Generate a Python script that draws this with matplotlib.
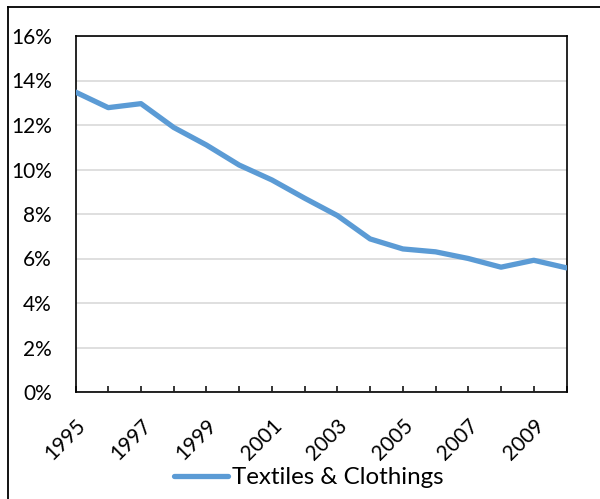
import matplotlib
matplotlib.use("Agg")
import matplotlib.pyplot as plt
from matplotlib.lines import Line2D

plt.rcParams['font.family'] = ['Lato', 'DejaVu Sans']

# share of textiles & clothing, %
years = list(range(1995, 2011))
share = [13.48, 12.78, 12.96, 11.89, 11.1, 10.2, 9.53, 8.71, 7.93,
         6.88, 6.43, 6.30, 6.0, 5.61, 5.92, 5.58]
label_years = [1995, 1997, 1999, 2001, 2003, 2005, 2007, 2009]
yticks = [0, 2, 4, 6, 8, 10, 12, 14, 16]

fig = plt.figure(figsize=(6, 4.99), dpi=100)
ax = fig.add_axes([75.5/600, 1 - 392/499, 491/600, 356/499])

ax.plot(years, share, color='#5B9BD5', lw=3.8, solid_capstyle='round',
        label='Textiles & Clothings', zorder=3)

ax.set_xlim(1995, 2010)
ax.set_ylim(0, 16)
ax.set_yticks(yticks)
ax.set_yticklabels([f"{v}%" for v in yticks], fontsize=15)
ax.yaxis.grid(True, color='#D9D9D9', lw=1.2)
ax.set_axisbelow(True)
ax.tick_params(axis='y', length=0, pad=17)

ax.set_xticks(years)
ax.set_xticklabels([str(y) if y in label_years else '' for y in years],
                   rotation=45, ha='right', rotation_mode='anchor', fontsize=15)
ax.tick_params(axis='x', direction='in', length=4.5, width=1.1, pad=17)

for s in ax.spines.values():
    s.set_linewidth(1.2)
    s.set_color('black')

leg = fig.legend(loc='center', bbox_to_anchor=(0.515, 1 - 478/499), frameon=False,
                 fontsize=17.4, handlelength=2.25, handletextpad=0.17)

# outer chart border (cropped on right and bottom)
fig.add_artist(Line2D([7.5/600, 7.5/600], [0, 1 - 6.5/499], color='black', lw=1.3,
                      transform=fig.transFigure))
fig.add_artist(Line2D([7.5/600, 1], [1 - 6.5/499, 1 - 6.5/499], color='black', lw=1.3,
                      transform=fig.transFigure))

fig.savefig('out.png', dpi=100)
